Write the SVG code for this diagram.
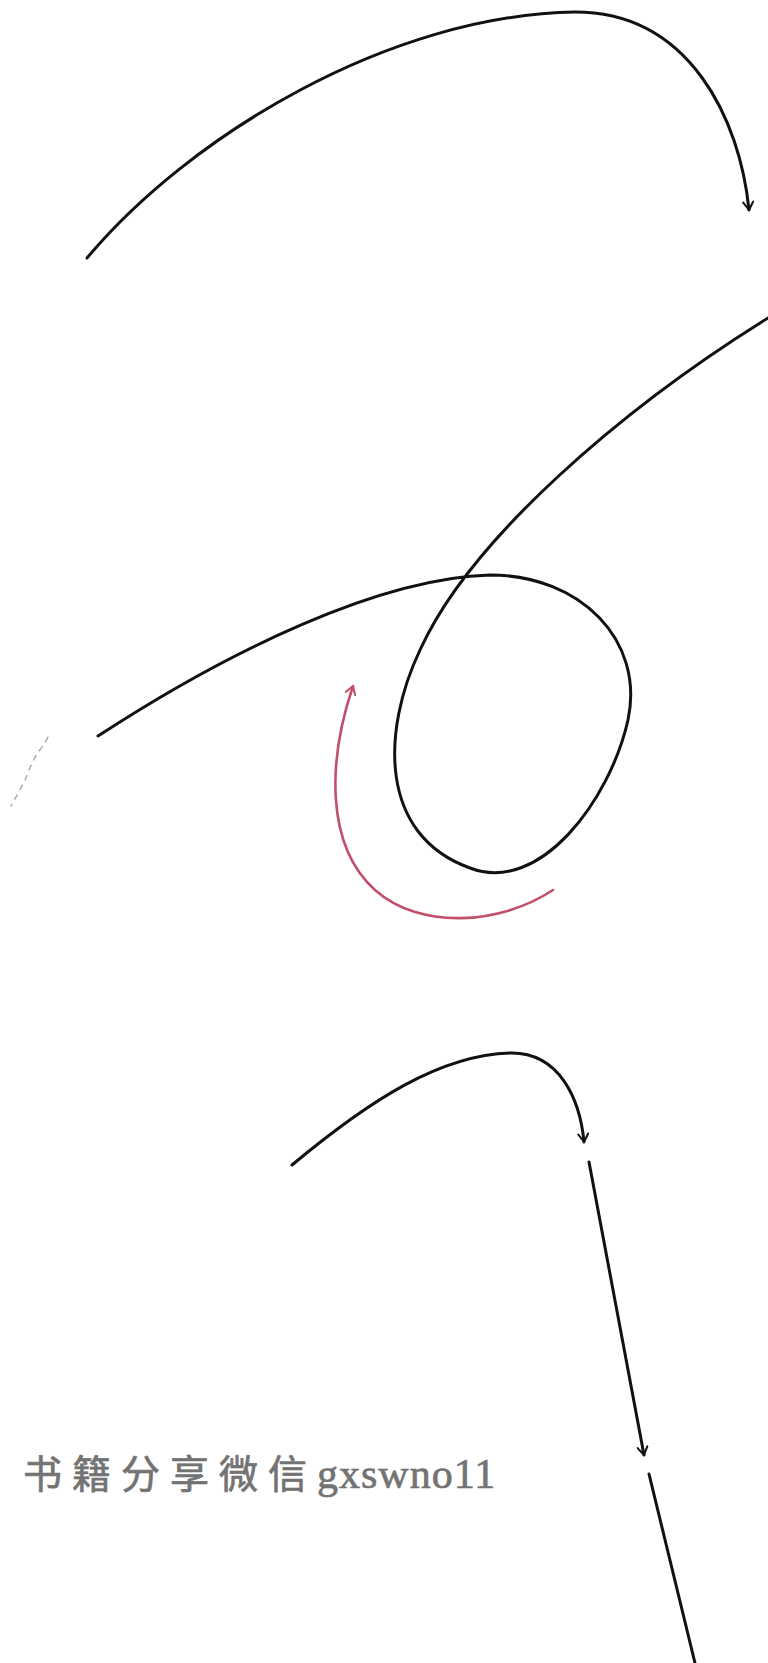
<svg xmlns="http://www.w3.org/2000/svg" width="768" height="1663" viewBox="0 0 768 1663">
<defs>
<style>
.ink{fill:none;stroke:#111;stroke-width:3;stroke-linecap:round;stroke-linejoin:round}
.red{fill:none;stroke:#c2506b;stroke-width:2.6;stroke-linecap:round}
.faint{fill:none;stroke:#a0a0a0;stroke-width:1.3;stroke-linecap:round;stroke-dasharray:5 6}
.wm{fill:#737373;stroke:#737373;stroke-width:0.7;font-family:"Liberation Serif","Noto Sans CJK SC",serif}
</style>
<marker id="vk" viewBox="0 0 12 12" refX="10" refY="6" markerWidth="12" markerHeight="12" markerUnits="userSpaceOnUse" orient="auto">
<path d="M2,1 L10,6 L2,11" fill="none" stroke="#111" stroke-width="2" stroke-linecap="round" stroke-linejoin="round"/>
</marker>
<marker id="vr" viewBox="0 0 12 12" refX="10" refY="6" markerWidth="12" markerHeight="12" markerUnits="userSpaceOnUse" orient="auto">
<path d="M2,1 L10,6 L2,11" fill="none" stroke="#c2506b" stroke-width="2" stroke-linecap="round" stroke-linejoin="round"/>
</marker>
</defs>
<rect width="768" height="1663" fill="#fff"/>
<g id="connectors">
<path id="arc-top" class="ink" d="M87,258 C190,135 390,15 575,12 C690,12 740,120 749,210" marker-end="url(#vk)"/>
<path id="loop" class="ink" d="M768,318 C620,410 470,540 420,650 C382,730 378,835 470,868 C540,895 610,800 628,720 C645,640 580,575 490,575 C380,578 230,650 98,736"/>
<path id="red-turn" class="red" d="M553,890 C500,925 420,930 375,890 C325,845 328,760 353,686" marker-end="url(#vr)"/>
<path id="arc-bottom" class="ink" d="M292,1165 C370,1100 440,1055 510,1053 C560,1052 580,1100 584,1142" marker-end="url(#vk)"/>
<path id="seg-1" class="ink" d="M589,1162 L644,1455" marker-end="url(#vk)"/>
<path id="seg-2" class="ink" d="M649,1474 L695,1663"/>
</g>
<g id="scribble">
<path class="faint" d="M48,737 Q42,748 38,752 Q30,766 26,778 Q20,790 11,806"/>
</g>
<g id="watermark">
<text class="wm" x="23" y="1488"><tspan font-size="39" letter-spacing="10">书籍分享微信</tspan><tspan font-size="42" letter-spacing="1">gxswno11</tspan></text>
</g>
</svg>
